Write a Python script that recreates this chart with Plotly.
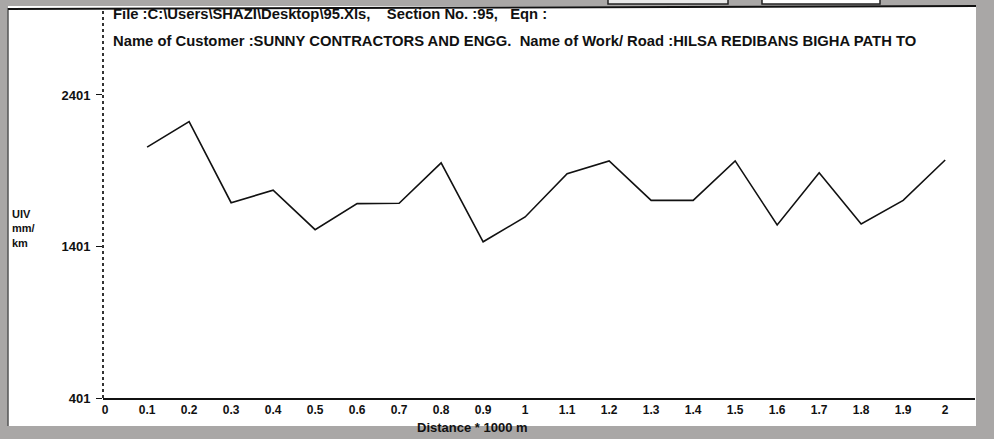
import plotly.graph_objects as go

# ---- data ----
distance = [0.1, 0.2, 0.3, 0.4, 0.5, 0.6, 0.7, 0.8, 0.9, 1.0,
            1.1, 1.2, 1.3, 1.4, 1.5, 1.6, 1.7, 1.8, 1.9, 2.0]
uiv = [2057, 2225, 1690, 1772, 1512, 1684, 1686, 1953, 1432, 1596,
       1881, 1966, 1705, 1705, 1966, 1543, 1888, 1550, 1705, 1972]

x_tickvals = [0, 0.1, 0.2, 0.3, 0.4, 0.5, 0.6, 0.7, 0.8, 0.9, 1.0,
              1.1, 1.2, 1.3, 1.4, 1.5, 1.6, 1.7, 1.8, 1.9, 2.0]
x_ticktext = ["0", "0.1", "0.2", "0.3", "0.4", "0.5", "0.6", "0.7", "0.8", "0.9", "1",
              "1.1", "1.2", "1.3", "1.4", "1.5", "1.6", "1.7", "1.8", "1.9", "2"]
y_tickvals = [401, 1401, 2401]
y_ticktext = ["401", "1401", "2401"]

title_line1 = "File :C:\\Users\\SHAZI\\Desktop\\95.Xls,    Section No. :95,   Eqn :"
title_line2 = ("Name of Customer :SUNNY CONTRACTORS AND ENGG.  "
               "Name of Work/ Road :HILSA REDIBANS BIGHA PATH TO")
y_title = "UIV<br>mm/<br>km"
x_title = "Distance * 1000 m"

FONT = "Liberation Sans, Arial, sans-serif"

fig = go.Figure()
fig.add_trace(go.Scatter(
    x=distance, y=uiv, mode="lines",
    line=dict(color="#111111", width=1.6),
    hoverinfo="x+y", showlegend=False,
))

W, H = 994, 439
L, R, T, B = 103, 19, 8, 41
pw, ph = W - L - R, H - T - B


def px(xp):
    return (xp - L) / pw


def py(yp):
    return (H - B - yp) / ph


shapes = [
    # white panel
    dict(type="rect", xref="paper", yref="paper", x0=px(8), x1=px(976), y0=py(426), y1=py(6),
         fillcolor="white", line=dict(width=0), layer="below"),
    # left panel border
    dict(type="line", xref="paper", yref="paper", x0=px(8), x1=px(8), y0=py(426), y1=py(8),
         line=dict(color="#555555", width=1.5)),
    # top panel border
    dict(type="line", xref="paper", yref="paper", x0=px(8), x1=px(976), y0=py(9), y1=py(6),
         line=dict(color="#111111", width=2)),
    # buttons at top
    dict(type="rect", xref="paper", yref="paper", x0=px(608), x1=px(728), y0=py(4), y1=py(-4),
         fillcolor="#e8e8e8", line=dict(color="#222222", width=1.5)),
    dict(type="rect", xref="paper", yref="paper", x0=px(762), x1=px(880), y0=py(4), y1=py(-4),
         fillcolor="white", line=dict(color="#222222", width=1.5)),
    # dotted y axis
    dict(type="line", xref="paper", yref="paper", x0=0, x1=0, y0=0, y1=py(8),
         line=dict(color="#333333", width=2, dash="dot")),
]

annotations = [
    dict(text="<b>" + title_line1 + "</b>", xref="paper", yref="paper", x=px(111), y=py(14),
         xanchor="left", yanchor="middle", showarrow=False,
         font=dict(family=FONT, size=14.8, color="#111111")),
    dict(text="<b>" + title_line2 + "</b>", xref="paper", yref="paper", x=px(111), y=py(41),
         xanchor="left", yanchor="middle", showarrow=False,
         font=dict(family=FONT, size=14.8, color="#111111")),
    dict(text="<b>" + y_title + "</b>", xref="paper", yref="paper", x=px(10), y=py(228),
         xanchor="left", yanchor="middle", showarrow=False, align="left",
         font=dict(family=FONT, size=11, color="#111111")),
    dict(text="<b>" + x_title + "</b>", xref="paper", yref="paper", x=px(472), y=py(427),
         xanchor="center", yanchor="middle", showarrow=False,
         font=dict(family=FONT, size=13, color="#111111")),
]

fig.update_layout(
    width=W, height=H,
    margin=dict(l=L, r=R, t=T, b=B),
    paper_bgcolor="#a9a7a6",
    plot_bgcolor="white",
    shapes=shapes,
    annotations=annotations,
    showlegend=False,
    xaxis=dict(
        range=[-0.005, 2.071],
        tickvals=x_tickvals, ticktext=["<b>" + t + "</b>" for t in x_ticktext],
        showgrid=False, zeroline=False,
        showline=True, linecolor="#111111", linewidth=2,
        ticks="", ticklabelstandoff=0,
        tickfont=dict(family=FONT, size=12, color="#111111"),
    ),
    yaxis=dict(
        range=[401, 2975],
        tickvals=y_tickvals, ticktext=["<b>" + t + "</b>" for t in y_ticktext],
        showgrid=False, zeroline=False, showline=False,
        ticks="outside", ticklen=6, tickcolor="#111111", tickwidth=1,
        ticklabelstandoff=3,
        tickfont=dict(family=FONT, size=13, color="#111111"),
    ),
)

fig.write_html("out.html", config={"displayModeBar": False},
               post_script="document.body.style.margin='0';")
